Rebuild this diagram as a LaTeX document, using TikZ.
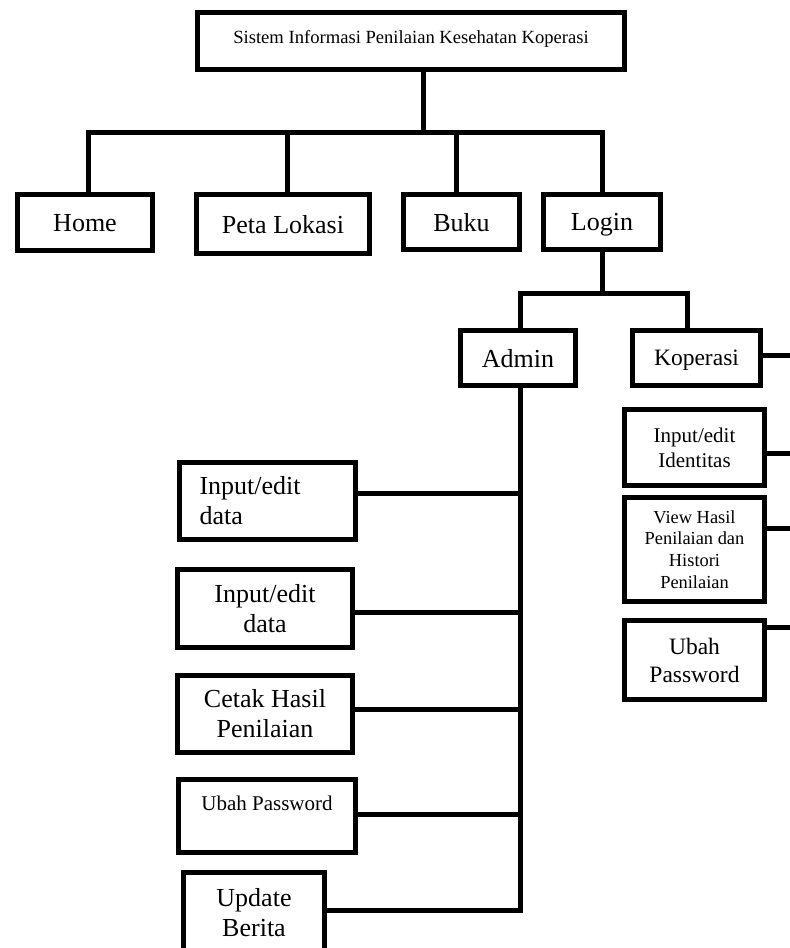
\documentclass[tikz,border=0pt]{standalone}
\usepackage{fontspec}
\setmainfont{Liberation Serif}
\begin{document}
\begin{tikzpicture}[x=1pt,y=-1pt,
  box/.style={draw, line width=5pt, inner sep=0pt, align=center, fill=white},
  oneline/.style={text depth=0pt},
  conn/.style={line width=5pt, line join=miter},
  fbig/.style={font=\fontsize{26}{30}\selectfont},
  fmid/.style={font=\fontsize{23.5}{28}\selectfont},
  fsmall/.style={font=\fontsize{21}{25}\selectfont},
  ftiny/.style={font=\fontsize{18.4}{21.7}\selectfont}]
\useasboundingbox (0,0) rectangle (790,948);
\clip (0,0) rectangle (790,948);

% root
\node[box, minimum width=427pt, minimum height=57pt, font=\fontsize{18.6}{22}\selectfont]
  (title) at (411,41) {\raisebox{9pt}{Sistem Informasi Penilaian Kesehatan Koperasi}};

% first level
\node[box, oneline, fbig, minimum width=135pt, minimum height=56pt] (home) at (85,222.5) {Home};
\node[box, oneline, fbig, minimum width=173pt, minimum height=59pt] (peta) at (283,224) {Peta Lokasi};
\node[box, oneline, fbig, minimum width=116pt, minimum height=55pt] (buku) at (461.5,222) {Buku};
\node[box, oneline, fbig, minimum width=117pt, minimum height=55pt] (login) at (602,222) {Login};

% user roles
\node[box, oneline, fbig, minimum width=115pt, minimum height=55pt] (admin) at (518,358) {Admin};
\node[box, oneline, fmid, minimum width=128pt, minimum height=55pt] (kop) at (696.5,358) {Koperasi};

% admin menu
\node[box, fbig, minimum width=176pt, minimum height=77pt, align=left,
      text width=136pt, inner xsep=20pt] (a1) at (267.5,501) {Input/edit\\data};
\node[box, fbig, minimum width=175pt, minimum height=78pt] (a2) at (265,608.5) {Input/edit\\data};
\node[box, fbig, minimum width=175pt, minimum height=77pt] (a3) at (265,714) {Cetak Hasil\\Penilaian};
\node[box, fsmall, minimum width=177pt, minimum height=73pt] (a4) at (267,816) {Ubah Password\\\mbox{}};
\node[box, fbig, minimum width=141pt, minimum height=80pt] (a5) at (254,912.5) {Update\\Berita};

% koperasi menu
\node[box, fsmall, minimum width=140pt, minimum height=76pt] (k1) at (694.5,447.5) {Input/edit\\Identitas};
\node[box, ftiny, minimum width=140pt, minimum height=104pt] (k2) at (694.5,549.5) {View Hasil\\Penilaian dan\\Histori\\Penilaian};
\node[box, fmid, minimum width=140pt, minimum height=79pt] (k3) at (694.5,660) {Ubah\\Password};

% attachment points
\coordinate (topbar) at (0,132);
\coordinate (split) at (0,293);
\coordinate (edge) at (800,0);
\coordinate (rootout) at ([xshift=12pt]title.south);
\coordinate (homein) at ([xshift=3pt]home.north);
\coordinate (petain) at ([xshift=4pt]peta.north);
\coordinate (bukuin) at ([xshift=-5.5pt]buku.north);
\coordinate (adminin) at ([xshift=2pt]admin.north);
\coordinate (kopin) at ([xshift=-9.5pt]kop.north);
\coordinate (kopout) at ([yshift=3pt]kop.east);
\coordinate (spine) at ([xshift=2pt]admin.south);
\coordinate (a1in) at ([yshift=8pt]a1.east);
\coordinate (a2in) at ([yshift=-3.5pt]a2.east);
\coordinate (a3in) at ([yshift=5pt]a3.east);
\coordinate (a4in) at ([yshift=2pt]a4.east);
\coordinate (a5in) at ([yshift=2pt]a5.east);
\coordinate (k1in) at ([yshift=-5.5pt]k1.east);
\coordinate (k2in) at ([yshift=21.5pt]k2.east);
\coordinate (k3in) at ([yshift=33pt]k3.east);

% root to first level
\draw[conn] (rootout) -- (rootout |- topbar);
\draw[conn] (homein) -- (homein |- topbar) -- (login.north |- topbar) -- (login.north);
\draw[conn] (petain) -- (petain |- topbar);
\draw[conn] (bukuin) -- (bukuin |- topbar);

% login to roles
\draw[conn] (login.south) -- (login.south |- split);
\draw[conn] (adminin) -- (adminin |- split) -- (kopin |- split) -- (kopin);

% admin menu
\draw[conn] (spine) -- (spine |- a5in) -- (a5in);
\draw[conn] (a1in) -- (a1in -| spine);
\draw[conn] (a2in) -- (a2in -| spine);
\draw[conn] (a3in) -- (a3in -| spine);
\draw[conn] (a4in) -- (a4in -| spine);

% koperasi menu
\draw[conn] (kopout) -- (kopout -| edge);
\draw[conn] (k1in) -- (k1in -| edge);
\draw[conn] (k2in) -- (k2in -| edge);
\draw[conn] (k3in) -- (k3in -| edge);
\end{tikzpicture}
\end{document}
